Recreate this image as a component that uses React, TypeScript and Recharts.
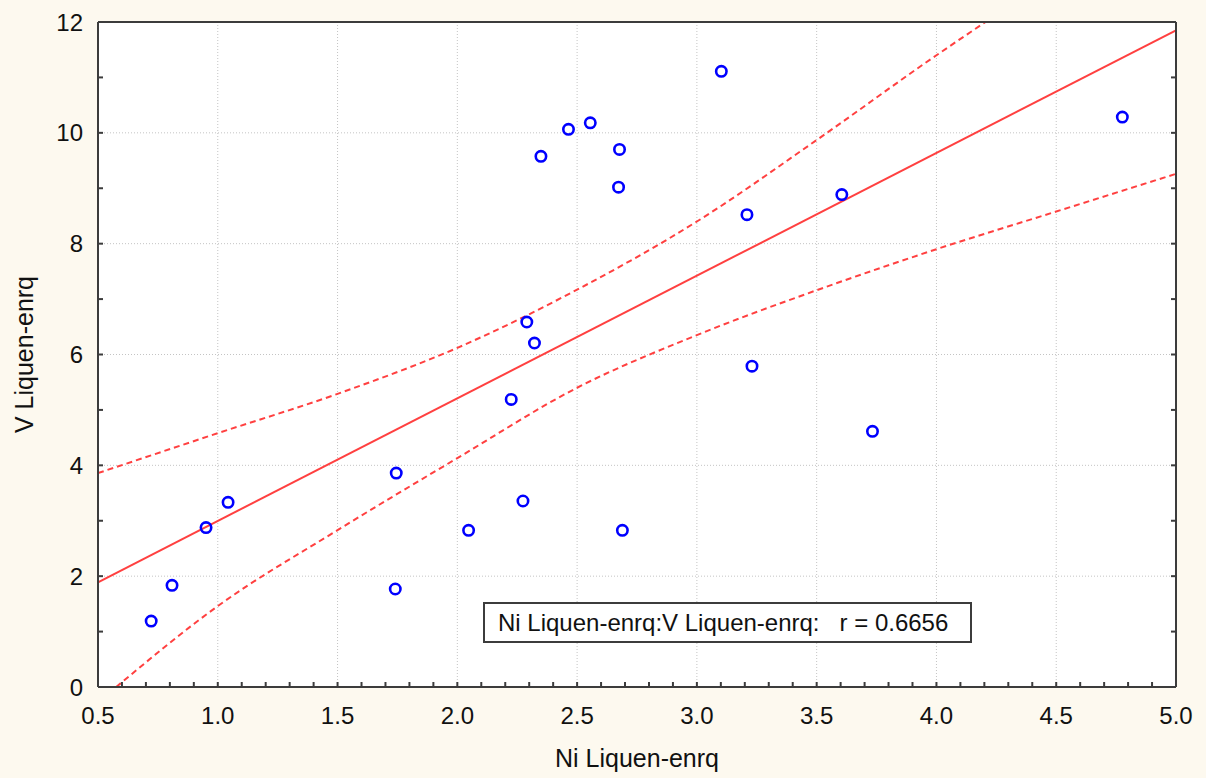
import React from 'react';
import { ComposedChart, Scatter, Line, XAxis, YAxis, CartesianGrid, Label } from 'recharts';

// ---- data ----
const niLiquen = [0.722, 0.809, 0.951, 1.043, 1.745, 1.741, 2.047, 2.225, 2.274, 2.290, 2.322, 2.349, 2.464, 2.555, 2.677, 2.673, 2.689, 3.102, 3.209, 3.230, 3.605, 3.733, 4.776];
const vLiquen = [1.19, 1.835, 2.876, 3.333, 3.86, 1.768, 2.828, 5.19, 3.356, 6.586, 6.207, 9.576, 10.063, 10.18, 9.70, 9.02, 2.828, 11.11, 8.524, 5.79, 8.885, 4.614, 10.285];

const fitX = [0.5, 5.0];
const fitY = [1.89, 11.85];

const upperX = [0.5, 1.0, 1.5, 2.0, 2.5, 3.0, 3.5, 4.0, 4.205];
const upperY = [3.86, 4.58, 5.29, 6.12, 7.17, 8.4, 9.87, 11.4, 12.0];

const lowerX = [0.576, 1.0, 1.5, 2.0, 2.5, 3.0, 3.5, 4.0, 4.5, 5.0];
const lowerY = [0.0, 1.46, 2.83, 4.13, 5.4, 6.35, 7.16, 7.9, 8.58, 9.26];

const xTickLabels = ['0.5', '1.0', '1.5', '2.0', '2.5', '3.0', '3.5', '4.0', '4.5', '5.0'];
const yTickLabels = ['0', '2', '4', '6', '8', '10', '12'];

const xTitle = 'Ni Liquen-enrq';
const yTitle = 'V Liquen-enrq';
const rText = 'Ni Liquen-enrq:V Liquen-enrq:   r = 0.6656';

// ---- derived ----
const pts = niLiquen.map((x, i) => ({ x, y: vLiquen[i] }));
const fitData = fitX.map((x, i) => ({ x, y: fitY[i] }));
const upperData = upperX.map((x, i) => ({ x, y: upperY[i] }));
const lowerData = lowerX.map((x, i) => ({ x, y: lowerY[i] }));

const xMajor = xTickLabels.map(Number);
const yMajor = yTickLabels.map(Number);
const xMinor: number[] = [];
for (let i = 0; i <= 45; i++) xMinor.push(Math.round((0.5 + i * 0.1) * 10) / 10);
const yMinor: number[] = [];
for (let i = 0; i <= 12; i++) yMinor.push(i);

const FONT = '"Liberation Sans", Arial, sans-serif';
const AXIS = '#3c3c3c';
const RED = '#ff4040';
const TXT = '#111111';

const isMajorX = (v: number) => xMajor.some((m) => Math.abs(m - v) < 1e-6);
const isMajorY = (v: number) => yMajor.some((m) => Math.abs(m - v) < 1e-6);

const BottomTick = (p: any) => {
  const { x, y, payload } = p;
  const v = payload.value as number;
  return (
    <g>
      <line x1={x} x2={x} y1={y} y2={y - 5} stroke={AXIS} strokeWidth={2} />
      {isMajorX(v) && (
        <text x={x} y={y + 37} textAnchor="middle" fontSize={24} fontFamily={FONT} fill={TXT}>
          {xTickLabels[xMajor.findIndex((m) => Math.abs(m - v) < 1e-6)]}
        </text>
      )}
    </g>
  );
};

const TopTick = (p: any) => {
  const { x, y } = p;
  return <line x1={x} x2={x} y1={y} y2={y + 5} stroke={AXIS} strokeWidth={2} />;
};

const LeftTick = (p: any) => {
  const { x, y, payload } = p;
  const v = payload.value as number;
  return (
    <g>
      <line x1={x} x2={x + 5} y1={y} y2={y} stroke={AXIS} strokeWidth={2} />
      {isMajorY(v) && (
        <text x={x - 15} y={y + 8.5} textAnchor="end" fontSize={24} fontFamily={FONT} fill={TXT}>
          {yTickLabels[yMajor.findIndex((m) => Math.abs(m - v) < 1e-6)]}
        </text>
      )}
    </g>
  );
};

const RightTick = (p: any) => {
  const { x, y } = p;
  return <line x1={x} x2={x - 5} y1={y} y2={y} stroke={AXIS} strokeWidth={2} />;
};

const Marker = (p: any) => (
  <circle cx={p.cx} cy={p.cy} r={5.2} fill="none" stroke="#0000ff" strokeWidth={2.6} />
);

export default function App() {
  return (
    <div style={{ position: 'absolute', left: 0, top: 0, width: 1206, height: 778, background: '#fdf9ef' }}>
      <ComposedChart width={1206} height={778} margin={{ top: 0, right: 0, bottom: 0, left: 0 }}>
        <CartesianGrid
          fill="#ffffff"
          fillOpacity={1}
          stroke="#c4c4c4"
          strokeDasharray="1 2"
          horizontalValues={yMajor.slice(1, -1)}
          verticalValues={xMajor.slice(1, -1)}
          xAxisId="bottom"
          yAxisId="left"
        />
        <XAxis
          xAxisId="bottom"
          dataKey="x"
          type="number"
          orientation="bottom"
          domain={[0.5, 5]}
          allowDataOverflow
          ticks={xMinor}
          interval={0}
          height={91}
          tickSize={0}
          tickMargin={0}
          tickLine={false}
          tick={BottomTick}
          axisLine={{ stroke: AXIS, strokeWidth: 2 }}
        >
          <Label
            content={(lp: any) => {
              const vb = lp.viewBox || {};
              return (
                <text x={vb.x + vb.width / 2} y={vb.y + 80} textAnchor="middle" fontSize={25} fontFamily={FONT} fill={TXT}>
                  {xTitle}
                </text>
              );
            }}
          />
        </XAxis>
        <XAxis
          xAxisId="top"
          type="number"
          orientation="top"
          domain={[0.5, 5]}
          allowDataOverflow
          ticks={xMinor}
          interval={0}
          height={22}
          tickSize={0}
          tickMargin={0}
          tickLine={false}
          tick={TopTick}
          axisLine={{ stroke: AXIS, strokeWidth: 2 }}
        />
        <YAxis
          yAxisId="left"
          dataKey="y"
          type="number"
          orientation="left"
          domain={[0, 12]}
          allowDataOverflow
          ticks={yMinor}
          interval={0}
          width={98}
          tickSize={0}
          tickMargin={0}
          tickLine={false}
          tick={LeftTick}
          axisLine={{ stroke: AXIS, strokeWidth: 2 }}
        >
          <Label
            content={(lp: any) => {
              const vb = lp.viewBox || {};
              const cx = 33;
              const cy = vb.y + vb.height / 2;
              return (
                <text x={cx} y={cy} transform={`rotate(-90 ${cx} ${cy})`} textAnchor="middle" fontSize={25} fontFamily={FONT} fill={TXT}>
                  {yTitle}
                </text>
              );
            }}
          />
        </YAxis>
        <YAxis
          yAxisId="right"
          type="number"
          orientation="right"
          domain={[0, 12]}
          allowDataOverflow
          ticks={yMinor}
          interval={0}
          width={30}
          tickSize={0}
          tickMargin={0}
          tickLine={false}
          tick={RightTick}
          axisLine={{ stroke: AXIS, strokeWidth: 2 }}
        />
        <Line xAxisId="bottom" yAxisId="left" data={upperData} dataKey="y" type="monotone" stroke={RED} strokeWidth={2} strokeDasharray="6 4" dot={false} activeDot={false} isAnimationActive={false} />
        <Line xAxisId="bottom" yAxisId="left" data={lowerData} dataKey="y" type="monotone" stroke={RED} strokeWidth={2} strokeDasharray="6 4" dot={false} activeDot={false} isAnimationActive={false} />
        <Line xAxisId="bottom" yAxisId="left" data={fitData} dataKey="y" type="linear" stroke={RED} strokeWidth={2} dot={false} activeDot={false} isAnimationActive={false} />
        <Scatter xAxisId="bottom" yAxisId="left" data={pts} dataKey="y" shape={Marker} isAnimationActive={false} />
      </ComposedChart>
      <div
        style={{
          position: 'absolute',
          left: 483,
          top: 602,
          width: 489,
          height: 41,
          boxSizing: 'border-box',
          border: `2px solid ${AXIS}`,
          background: '#ffffff',
          fontFamily: FONT,
          fontSize: 24,
          color: TXT,
          whiteSpace: 'pre',
          lineHeight: '37px',
          paddingLeft: 13,
        }}
      >
        {rText}
      </div>
    </div>
  );
}
